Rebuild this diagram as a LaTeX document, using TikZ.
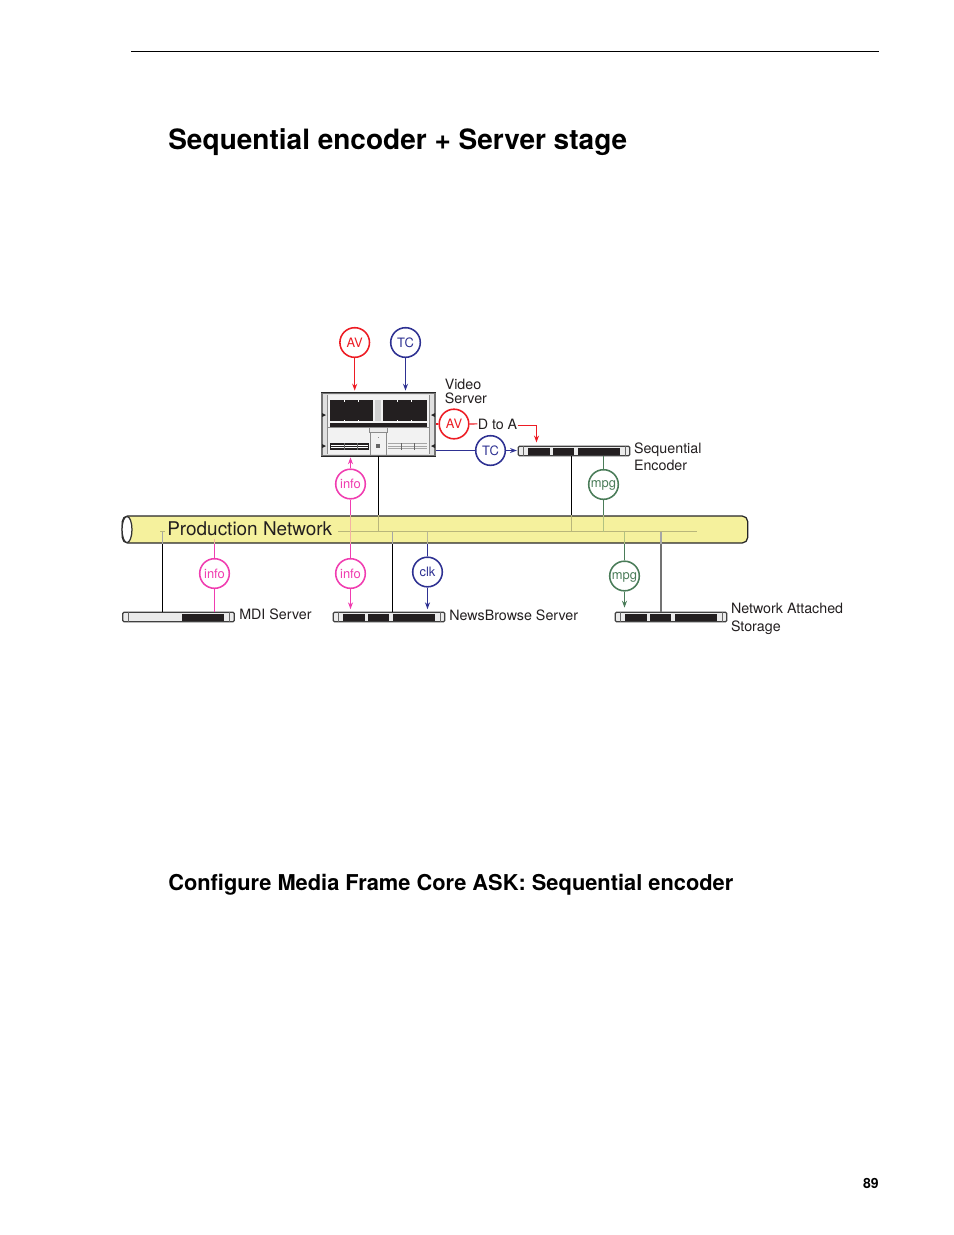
\documentclass[tikz,border=0pt]{standalone}
\usepackage{fontspec}
\setmainfont{TeX Gyre Heros}
\usetikzlibrary{arrows.meta, positioning}
\definecolor{avred}{HTML}{ED1C24}
\definecolor{tcblue}{HTML}{2E3192}
\definecolor{infopink}{HTML}{F03DB0}
\definecolor{mpggreen}{HTML}{4A7C59}
\definecolor{pipeyellow}{HTML}{F5F19D}
\definecolor{inktext}{HTML}{231F20}
\tikzset{
  tag/.style={circle, draw, fill=white, line width=1pt, minimum size=19pt, inner sep=0pt, font=\fontsize{8.3}{9}\selectfont},
  avtag/.style={tag, draw=avred, text=avred},
  tctag/.style={tag, draw=tcblue, text=tcblue},
  infotag/.style={tag, draw=infopink, text=infopink},
  mpgtag/.style={tag, draw=mpggreen, text=mpggreen, text depth=0pt},
  lbl/.style={anchor=base west, inner sep=0pt, text=inktext, font=\fontsize{9.15}{9}\selectfont},
  rack/.style={draw=black!75, fill=black!8, line width=0.8pt, rounded corners=0.8pt, minimum width=71.5pt, minimum height=6.2pt, inner sep=0pt},
  wire/.style={line width=0.7pt},
  tip/.style={-{Stealth[length=4.4pt,width=3.2pt]}},
  pale/.style={line width=0.7pt, draw=black!22!pipeyellow!90!gray}
}
\begin{document}
\begin{tikzpicture}[x=0.6415pt, y=-0.6415pt]
  \useasboundingbox (0,0) rectangle (954,1235);
  % Page furniture
  \draw[line width=0.5pt] (131,51.5) -- (879,51.5);
  \node[anchor=base west, inner sep=0pt, font=\bfseries\fontsize{17.96}{20}\selectfont] (title) at (168,149.3) {Sequential encoder + Server stage};
  \node[anchor=base west, inner sep=0pt, font=\bfseries\fontsize{14}{16}\selectfont] (subtitle) at (168,890) {Configure Media Frame Core ASK: Sequential encoder};
  \node[anchor=base east, inner sep=0pt, font=\bfseries\fontsize{9}{10}\selectfont] (pageno) at (879,1188) {89};

  % Production network pipe
  \node[draw=black!85, fill=pipeyellow, line width=0.8pt, rounded corners=3.5pt, minimum width=401.2pt, minimum height=17.3pt, inner sep=0pt] (pipe) at (435,529.5) {};
  \draw[draw=black!80, fill=white, line width=0.8pt] (127,529.5) ellipse (3.2pt and 8.4pt);
  \coordinate (bus) at (338,531.5);
  \coordinate (busend) at (697,531.5);
  \draw[pale] (bus) -- (busend);
  \draw[pale] (160,531.5) -- (165,531.5);
  \node[lbl, font=\fontsize{12.15}{13}\selectfont] (pipelabel) at (167,535) {Production Network};

  % Video server
  \node[draw=black!55, fill=black!12, line width=0.7pt, minimum width=72.5pt, minimum height=40.4pt, inner sep=0pt] (server) at (378.5,424.5) {};
  \fill[black!5] (327,395) rectangle (429,454);
  \draw[black!85, line width=0.9pt] (server.north west) -- (server.north east);
  \draw[black!85, line width=0.9pt] (server.south west) -- (server.south east);
  \draw[black!45, line width=0.3pt] (327,395) -- (327,454) (429,395) -- (429,454) (327,427) -- (429,427);
  \fill[inktext] (330,400) rectangle (373,421);
  \fill[inktext] (383,400) rectangle (427,421);
  \fill[inktext] (330,423) rectangle (427,427);
  \foreach \tx in {344,358,397,411} {
    \fill[white] (\tx,400) rectangle ++(1,1.5);
    \fill[white] (\tx,419.5) rectangle ++(1,1.5);
  }
  \fill[black!18] (375,400) rectangle (381,421);
  \draw[black!45, line width=0.3pt, fill=black!8] (369,427) rectangle (387,432);
  \draw[black!45, line width=0.3pt] (370,432) -- (370,455) (386,432) -- (386,455);
  \fill[black!60] (376,444) rectangle (380,448);
  \fill[black!45] (377.5,437) rectangle (378.5,438);
  \fill[inktext] (330,443) rectangle (369,450);
  \foreach \ly in {445,447.5} { \draw[white, line width=0.35pt] (331,\ly) -- (368,\ly); }
  \foreach \ly in {443.5,446,448.5} { \draw[black!35, line width=0.35pt] (388,\ly) -- (427,\ly); }
  \foreach \tx in {344,357,401,414} { \draw[black!60, line width=0.35pt] (\tx,443) -- (\tx,449.5); }
  % side notches
  \foreach \ny in {415,446} {
    \fill[black!85] (322,\ny-2) -- (326,\ny) -- (322,\ny+2) -- cycle;
    \fill[black!85] (435,\ny-2) -- (431,\ny) -- (435,\ny+2) -- cycle;
  }

  % Rack units
  \node[rack] (encoder) at (574,451) {};
  \node[rack] (mdi) at (178.5,617) {};
  \node[rack] (newsbrowse) at (389,617) {};
  \node[rack] (nas) at (671,617) {};
  \foreach \rx/\ry in {518/446,333/612,615/612} {
    \fill[inktext] (\rx+10,\ry+1.5) rectangle (\rx+102,\ry+8.5);
    \fill[black!8] (\rx+32,\ry+1.5) rectangle (\rx+35,\ry+8.5);
    \fill[black!8] (\rx+56,\ry+1.5) rectangle (\rx+60,\ry+8.5);
    \draw[black!60, line width=0.3pt] (\rx+5,\ry) -- (\rx+5,\ry+10) (\rx+107,\ry) -- (\rx+107,\ry+10);
  }
  \fill[inktext] (182,613.5) rectangle (224,620.5);
  \draw[black!60, line width=0.3pt] (128,612) -- (128,622) (229,612) -- (229,622);

  % Signal tags
  \node[avtag] (avin) at (354.7,342.5) {AV};
  \node[tctag] (tcin) at (405.5,342.5) {TC};
  \node[avtag] (avout) at (454,424) {AV};
  \node[tctag] (tcout) at (490.5,450.5) {TC};
  \node[infotag] (infoup) at (350.5,484) {info};
  \node[mpgtag] (mpgup) at (603.5,484.5) {mpg};
  \node[infotag] (infomdi) at (214.5,573.5) {info};
  \node[infotag] (infonews) at (350.5,573.5) {info};
  \node[tctag] (clk) at (427.5,572) {clk};
  \node[mpgtag] (mpgnas) at (624.5,576) {mpg};

  % Text labels
  \node[lbl] (lblvideo) at (444.5,389) {Video};
  \node[lbl] (lblserver) at (444.5,403) {Server};
  \node[lbl, anchor=base] (dtoa) at (497.5,429) {D to A};
  \node[lbl] (lblseq) at (633.7,453) {Sequential};
  \node[lbl] (lblenc) at (633.7,470) {Encoder};
  \node[lbl] (lblmdi) at (239,619) {MDI Server};
  \node[lbl] (lblnews) at (449,620) {NewsBrowse Server};
  \node[lbl] (lblnas) at (730.7,613) {Network Attached};
  \node[lbl] (lblstore) at (730.7,631) {Storage};

  % Incoming to the video server
  \draw[wire, tip, avred, shorten >=1.2pt] (avin.south) -- (avin.south |- server.north);
  \draw[wire, tip, tcblue, shorten >=1.2pt] (tcin.south) -- (tcin.south |- server.north);
  \draw[wire, avred] (avout.west) -- (avout.west -| server.east);
  \draw[wire, avred] (avout.east) -- (dtoa.west);
  \coordinate (dtoacorner) at (536.5,425.5);
  \draw[wire, tip, avred, shorten >=2pt] (dtoa.east |- dtoacorner) -- (dtoacorner) -- (dtoacorner |- encoder.north);
  \draw[wire, tcblue] (tcout.west) -- (tcout.west -| server.east);
  \draw[wire, tip, tcblue, shorten >=0.5pt] (tcout.east) -- (tcout.east -| encoder.west);
  \draw[wire, tip, infopink, shorten >=0.5pt] (infoup.north) -- (infoup.north |- server.south);

  % Drops onto the pipe
  \coordinate (srvdrop) at (378.5,456);
  \coordinate (encdrop) at (571.5,456);
  \coordinate (mdidrop) at (162.5,612);
  \coordinate (newsdrop) at (392.5,612);
  \coordinate (nasdrop) at (661,612);
  \draw[wire, black] (srvdrop) -- (srvdrop |- pipe.north);
  \draw[pale] (srvdrop |- pipe.north) -- (srvdrop |- bus);
  \draw[wire, black] (encdrop) -- (encdrop |- pipe.north);
  \draw[pale] (encdrop |- pipe.north) -- (encdrop |- bus);
  \draw[wire, infopink, line width=0.9pt] (infoup.south) -- (infoup.south |- pipe.north);
  \draw[pale, draw=infopink!35!pipeyellow] (infoup.south |- pipe.north) -- (infoup.south |- bus);
  \draw[wire, mpggreen, line width=0.9pt] (mpgup.north) -- (mpgup.north |- encoder.south);
  \draw[wire, mpggreen, line width=0.9pt] (mpgup.south) -- (mpgup.south |- pipe.north);
  \draw[pale, draw=mpggreen!40!pipeyellow] (mpgup.south |- pipe.north) -- (mpgup.south |- bus);

  % Drops below the pipe
  \draw[wire, black] (mdidrop |- pipe.south) -- (mdidrop);
  \draw[pale, draw=black!35] (mdidrop |- bus) -- (mdidrop |- pipe.south);
  \draw[wire, black] (newsdrop |- pipe.south) -- (newsdrop);
  \draw[pale, draw=black!35] (newsdrop |- bus) -- (newsdrop |- pipe.south);
  \draw[wire, black!55, line width=1.1pt] (nasdrop |- pipe.south) -- (nasdrop);
  \draw[pale, draw=black!35] (nasdrop |- bus) -- (nasdrop |- pipe.south);
  \draw[wire, infopink, line width=0.9pt] (infomdi.north) -- (infomdi.north |- pipe.south);
  \draw[pale, draw=infopink!35!pipeyellow] (infomdi.north |- pipe.south) -- ++(0,-5);
  \draw[wire, infopink, line width=0.9pt] (infomdi.south) -- (infomdi.south |- mdi.north);
  \draw[wire, infopink, line width=0.9pt] (infonews.north) -- (infonews.north |- pipe.south);
  \draw[pale, draw=infopink!35!pipeyellow] (infonews.north |- pipe.south) -- (infonews.north |- bus);
  \draw[wire, tip, infopink, shorten >=1.5pt] (infonews.south) -- (infonews.south |- newsbrowse.north);
  \draw[wire, tcblue] (clk.north) -- (clk.north |- pipe.south);
  \draw[pale, draw=tcblue!30!pipeyellow] (clk.north |- pipe.south) -- (clk.north |- bus);
  \draw[wire, tip, tcblue, shorten >=1.5pt] (clk.south) -- (clk.south |- newsbrowse.north);
  \draw[wire, mpggreen, line width=0.9pt] (mpgnas.north) -- (mpgnas.north |- pipe.south);
  \draw[pale, draw=mpggreen!40!pipeyellow] (mpgnas.north |- pipe.south) -- (mpgnas.north |- bus);
  \draw[wire, tip, mpggreen, shorten >=2.5pt] (mpgnas.south) -- (mpgnas.south |- nas.north);
\end{tikzpicture}
\end{document}
